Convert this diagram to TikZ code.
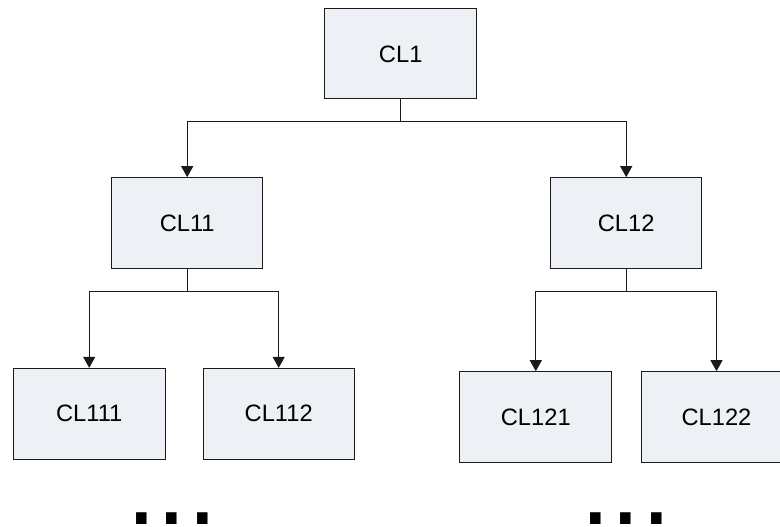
\documentclass[tikz,border=0pt]{standalone}
\usepackage{fontspec}
\setmainfont{Liberation Sans}
\usetikzlibrary{arrows.meta}
\definecolor{boxfill}{HTML}{EDF0F5}
\definecolor{linec}{HTML}{1A1A1A}
\tikzset{
  clbox/.style={draw=linec, fill=boxfill, line width=1pt, minimum height=90.6pt, minimum width=151pt, inner sep=0pt, font=\fontsize{23.7}{26}\selectfont},
  conn/.style={draw=linec, line width=1pt, -{Triangle[length=11pt,width=12pt]}},
  dotstxt/.style={font=\fontsize{110}{110}\selectfont, inner sep=0pt, anchor=base}
}
\begin{document}
\begin{tikzpicture}[x=1pt,y=-1pt]
\useasboundingbox (0,0) rectangle (780,527);
\node[clbox, minimum width=151.7pt, minimum height=90pt] (cl1) at (400.7,54) {CL1};
\node[clbox] (cl11) at (187.2,223) {CL11};
\node[clbox] (cl12) at (626.2,223) {CL12};
\node[clbox, minimum width=151.7pt, minimum height=90.7pt] (cl111) at (89.2,413.7) {CL111};
\node[clbox, minimum width=150.7pt, minimum height=90.7pt] (cl112) at (278.7,413.7) {CL112};
\node[clbox, minimum width=151.7pt, minimum height=91pt] (cl121) at (535.8,417.2) {CL121};
\node[clbox, minimum width=151pt, minimum height=91pt] (cl122) at (716.5,417.2) {CL122};
\coordinate (j1) at (400.7,122);
\coordinate (j2) at (187.2,291);
\coordinate (j3) at (626.2,291);
\draw[linec, line width=1pt] (cl1.south) -- (j1);
\draw[conn] (j1) -| (cl11.north);
\draw[conn] (j1) -| (cl12.north);
\draw[linec, line width=1pt] (cl11.south) -- (j2);
\draw[conn] (j2) -| (cl111.north);
\draw[conn] (j2) -| (cl112.north);
\draw[linec, line width=1pt] (cl12.south) -- (j3);
\draw[conn] (j3) -| (cl121.north);
\draw[conn] (j3) -| (cl122.north);
\node[dotstxt] (dl) at (172,524) {...};
\node[dotstxt] (dr) at (626,524) {...};
\end{tikzpicture}
\end{document}
